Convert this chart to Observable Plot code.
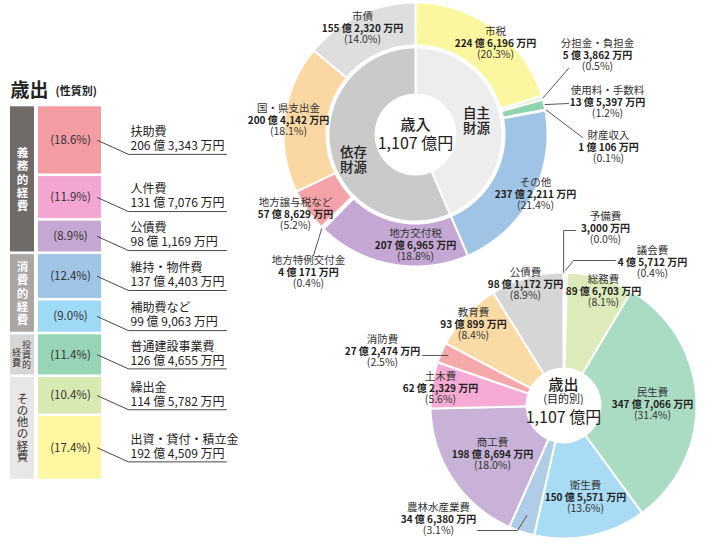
<!DOCTYPE html>
<html><head><meta charset="utf-8">
<script src="https://cdn.jsdelivr.net/npm/d3@7"></script>
<script src="https://cdn.jsdelivr.net/npm/@observablehq/plot@0.6"></script>
<style>html,body{margin:0;padding:0;background:#fff}</style>
</head><body><div id="chart"></div>
<script>
const FONT = "'Noto Sans CJK JP','Noto Sans',sans-serif";

// ---------- 歳出（性質別） ----------
const natureNames = ["扶助費","人件費","公債費","維持・物件費","補助費など","普通建設事業費","繰出金","出資・貸付・積立金"];
const natureValues = [2063343,1317076,981169,1374403,999063,1264655,1145782,1924509]; // 万円
const naturePct = [18.6,11.9,8.9,12.4,9.0,11.4,10.4,17.4];
const natureGroups = ["義務的経費","義務的経費","義務的経費","消費的経費","消費的経費","投資的経費","その他の経費","その他の経費"];

// ---------- 歳入 ----------
const revNames = ["市税","分担金・負担金","使用料・手数料","財産収入","その他","地方交付税","地方特例交付金","地方譲与税など","国・県支出金","市債"];
const revValues = [2246196,53862,135397,10106,2372211,2076965,40171,578629,2004142,1552320]; // 万円
const revPct = [20.3,0.5,1.2,0.1,21.4,18.8,0.4,5.2,18.1,14.0];
const revSource = ["自主財源","自主財源","自主財源","自主財源","自主財源","依存財源","依存財源","依存財源","依存財源","依存財源"];

// ---------- 歳出（目的別） ----------
const expNames = ["予備費","議会費","総務費","民生費","衛生費","農林水産業費","商工費","土木費","消防費","教育費","公債費"];
const expValues = [3000,45712,896703,3477066,1505571,346380,1988694,622329,272474,930899,981172]; // 万円
const expPct = [0.0,0.4,8.1,31.4,13.6,3.1,18.0,5.6,2.5,8.4,8.9];

const totalLabel = "1,107 億円";

// ---------- styles / layout ----------
const natureColors = ["#f49ca4","#f4a6d2","#c4a7d2","#9fc4e6","#9ed9f6","#98d5b6","#d8e9b2","#fcf7a0"];
const groupStyle = {
  "義務的経費": {fill:"#6f6b69", text:"#ffffff", bold:true},
  "消費的経費": {fill:"#a9a6a4", text:"#ffffff", bold:true},
  "投資的経費": {fill:"#d8d6d4", text:"#333333", bold:false},
  "その他の経費": {fill:"#e8e7e6", text:"#333333", bold:false}
};
const revColors = ["#fbf6a0","#e3f2d6","#8fd3b0","#cfe9f5","#9fc4e6","#c4a7d3","#f3eef6","#f5a3a8","#fbd8a3","#dedede"];
const srcColors = {"自主財源":"#ededed","依存財源":"#cacaca"};
const expColors = ["#eef5dc","#eef5dc","#dcebb9","#aadcc4","#a9dcf4","#b0cde8","#c9b2d8","#f6abd5","#f6a9ad","#fadaa5","#d6d6d6"];

const revLabelPos = [[495,31],[597,43],[607,90],[608,135],[535,182],[415,233],[308,260],[295,202],[288,108],[362,16]];
const expLabelPos = [[605,216],[652,250],[603,279],[652,392],[585,485],[438,507],[492,442],[440,376],[382,339],[473,312],[525,272]];

const fmtAmount = v => { const oku = Math.floor(v/10000), man = v % 10000; return (oku ? oku + " 億 " : "") + d3.format(",")(man) + " 万円"; };
const fmtPct = p => `(${p.toFixed(1)}%)`;

// ---------- left bar ----------
const yBar = d3.scaleLinear().domain([0,100]).range([105,480]);
let cum = 0;
const natureRows = natureNames.map((name,i) => {
  const y1 = yBar(cum); cum += naturePct[i]; const y2 = yBar(cum);
  return {name, amount: fmtAmount(natureValues[i]), pct: fmtPct(naturePct[i]), group: natureGroups[i], y1, y2, c:(y1+y2)/2, color: natureColors[i]};
});
const groupRows = d3.groups(natureRows, d => d.group).map(([g, rows]) => ({
  group: g, y1: d3.min(rows, d=>d.y1), y2: d3.max(rows, d=>d.y2), c: (d3.min(rows,d=>d.y1)+d3.max(rows,d=>d.y2))/2,
  fill: groupStyle[g].fill, text: groupStyle[g].text, bold: groupStyle[g].bold
}));
const natureLeaders = natureRows.flatMap((d,i) => [
  {key:i, x:97, y:d.c}, {key:i, x:128, y:d.c+14}, {key:i, x:226, y:d.c+14}
]);

// ---------- pies ----------
function polar(cx,cy,r,a){ return [cx + r*Math.sin(a), cy - r*Math.cos(a)]; }
function ringPoly(key, color, cx, cy, r0, r1, a0, a1){
  const n = Math.max(2, Math.ceil((a1-a0)/0.01));
  const pts = [];
  for (let k=0;k<=n;k++){ const a=a0+(a1-a0)*k/n; const [x,y]=polar(cx,cy,r1,a); pts.push({key,color,x,y}); }
  if (r0>0) for (let k=n;k>=0;k--){ const a=a0+(a1-a0)*k/n; const [x,y]=polar(cx,cy,r0,a); pts.push({key,color,x,y}); }
  else pts.push({key,color,x:cx,y:cy});
  return pts;
}
const pie = d3.pie().sort(null).value(d=>d);

// revenue donut
const RC = [415,134], R_OUT = 132, R_OUT_IN = 89, R_IN = 87, R_HOLE = 41;
const revArcs = pie(revValues);
const srcNames = ["自主財源","依存財源"];
const srcArcs = pie(srcNames.map(s => d3.sum(revValues.filter((v,i)=>revSource[i]===s))));
const revPolys = [
  ...srcArcs.flatMap((a,i) => ringPoly("s"+i, srcColors[srcNames[i]], RC[0], RC[1], 0, R_IN, a.startAngle, a.endAngle)),
  ...revArcs.flatMap((a,i) => ringPoly("r"+i, revColors[i], RC[0], RC[1], R_OUT_IN, R_OUT, a.startAngle, a.endAngle))
];
const revMid = i => (revArcs[i].startAngle + revArcs[i].endAngle)/2;
const revLeaderEnds = {1:[568,68], 2:[568,103], 3:[582,137], 6:[313,255]};
const revLeaders = Object.entries(revLeaderEnds).flatMap(([i,[ex,ey]]) => {
  const [px,py] = polar(RC[0],RC[1],R_OUT+1,revMid(+i));
  return [{key:"rl"+i, x:ex, y:ey}, {key:"rl"+i, x:px, y:py}];
});

// expenditure pie
const EC = [563,405], E_R = 133, E_HOLE = 38;
const expArcs = pie(expValues);
const expPolys = expArcs.flatMap((a,i) => ringPoly("e"+i, expColors[i], EC[0], EC[1], 0, E_R, a.startAngle, a.endAngle));
const expMid = i => (expArcs[i].startAngle + expArcs[i].endAngle)/2;
const eP = (i, r) => { const [x,y] = polar(EC[0],EC[1],r,expMid(i)); return {x,y}; };
const p0 = eP(0, E_R), p1 = eP(1, E_R+2), p5 = eP(5, 116), p8 = eP(8, 126);
const expLeaders = [
  {key:"el0",x:575,y:230},{key:"el0",x:p0.x,y:230},{key:"el0",...p0},
  {key:"el1",x:615,y:260},{key:"el1",x:573,y:260},{key:"el1",...p1},
  {key:"el5",x:477,y:530},{key:"el5",x:517,y:530},{key:"el5",...p5},
  {key:"el8",x:422,y:p8.y},{key:"el8",...p8}
].map(d => ({key:d.key, x:d.x, y:d.y}));

const LS = 11.8;
const labelRows = (names, values, pcts, pos) => names.map((n,i) => ({
  name: n, amount: fmtAmount(values[i]), pct: fmtPct(pcts[i]), x: pos[i][0], y: pos[i][1]
}));
const revLabels = labelRows(revNames, revValues, revPct, revLabelPos);
const expLabels = labelRows(expNames, expValues, expPct, expLabelPos);
const allLabels = [...revLabels, ...expLabels];

const centers = [
  {x:RC[0], y:RC[1]}, {x:EC[0], y:EC[1]}
];

const plot = Plot.plot({
  width: 720, height: 549,
  margin: 0,
  x: {domain:[0,720], range:[0,720], axis:null},
  y: {domain:[0,549], range:[0,549], axis:null},
  color: {type:"identity"},
  style: {fontFamily: FONT, background:"#fff", overflow:"visible"},
  marks: [
    // title
    Plot.text(["歳出"], {x: 10, y: 90, text: d=>d, textAnchor:"start", fontSize:19, fontWeight:"bold", fill:"#222"}),
    Plot.text(["(性質別)"], {x: 55, y: 91, text: d=>d, textAnchor:"start", fontSize:11, fontWeight:"bold", fill:"#222"}),
    // left bar
    Plot.rect(groupRows, {x1:10, x2:34, y1:"y1", y2:"y2", fill:"fill", insetTop:1.3, insetBottom:1.3}),
    Plot.rect(natureRows, {x1:38, x2:101, y1:"y1", y2:"y2", fill:"color", insetTop:1.3, insetBottom:1.3}),
    Plot.text(groupRows.filter(d=>d.bold), {x:22, y:"c", text: d=>[...d.group].join("\n"), fill:"text", fontSize:11.5, lineHeight:1.15, fontWeight: "bold"}),
    Plot.text(groupRows.filter(d=>!d.bold && d.group!=="投資的経費"), {x:22, y:"c", text: d=>[...d.group].join("\n"), fill:"text", fontSize:11.5, lineHeight:1.02}),
    Plot.text(groupRows.filter(d=>d.group==="投資的経費"), {x:26, y:"c", text: d=>[...d.group.slice(0,3)].join("\n"), fill:"text", fontSize:9, lineHeight:1.12}),
    Plot.text(groupRows.filter(d=>d.group==="投資的経費"), {x:16, y: d=>d.c+3, text: d=>[...d.group.slice(3)].join("\n"), fill:"text", fontSize:9, lineHeight:1.12}),
    Plot.text(natureRows, {x:70, y:"c", text:"pct", fontSize:11.5, fill:"#333"}),
    Plot.line(natureLeaders, {x:"x", y:"y", z:"key", stroke:"#333", strokeWidth:0.9, fill:"none"}),
    Plot.text(natureRows, {x:130, y:d=>d.c-8, text:"name", textAnchor:"start", fontSize:12, fill:"#222"}),
    Plot.text(natureRows, {x:130, y:d=>d.c+6, text:"amount", textAnchor:"start", fontSize:12, fill:"#222"}),
    // revenue donut
    Plot.line(revPolys, {x:"x", y:"y", z:"key", fill:"color", stroke:"#fff", strokeWidth:2, curve:"linear-closed"}),
    Plot.dot([centers[0]], {x:"x", y:"y", r:R_HOLE, fill:"#fff"}),
    // expenditure pie
    Plot.line(expPolys, {x:"x", y:"y", z:"key", fill:"color", stroke:"#fff", strokeWidth:2, curve:"linear-closed"}),
    Plot.dot([centers[1]], {x:"x", y:"y", r:E_HOLE, fill:"#fff"}),
    // leaders
    Plot.line([...revLeaders, ...expLeaders], {x:"x", y:"y", z:"key", stroke:"#444", strokeWidth:0.9, fill:"none"}),
    // labels
    Plot.text(allLabels, {x:"x", y:"y", text:"name", fontSize:10.5, fill:"#333"}),
    Plot.text(allLabels, {x:"x", y:d=>d.y+LS, text:"amount", fontSize:10, fontWeight:"bold", fill:"#222"}),
    Plot.text(allLabels, {x:"x", y:d=>d.y+2*LS, text:"pct", fontSize:10.5, fill:"#333"}),
    // centre texts
    Plot.text(["歳入"], {x:RC[0], y:RC[1]-9, text:d=>d, fontSize:15, fontWeight:500, fill:"#222"}),
    Plot.text([totalLabel], {x:RC[0], y:RC[1]+9, text:d=>d, fontSize:16, fill:"#222"}),
    Plot.text(["自主"], {x:476, y:113, text:d=>d, fontSize:13.5, fontWeight:500, fill:"#222"}),
    Plot.text(["財源"], {x:476, y:128, text:d=>d, fontSize:13.5, fontWeight:500, fill:"#222"}),
    Plot.text(["依存"], {x:353, y:152, text:d=>d, fontSize:13.5, fontWeight:500, fill:"#222"}),
    Plot.text(["財源"], {x:353, y:167, text:d=>d, fontSize:13.5, fontWeight:500, fill:"#222"}),
    Plot.text(["歳出"], {x:EC[0], y:EC[1]-20, text:d=>d, fontSize:15, fontWeight:500, fill:"#222"}),
    Plot.text(["(目的別)"], {x:EC[0], y:EC[1]-6, text:d=>d, fontSize:11, fill:"#222"}),
    Plot.text([totalLabel], {x:EC[0], y:EC[1]+12, text:d=>d, fontSize:16, fill:"#222"})
  ]
});
document.getElementById("chart").appendChild(plot);
</script></body></html>
